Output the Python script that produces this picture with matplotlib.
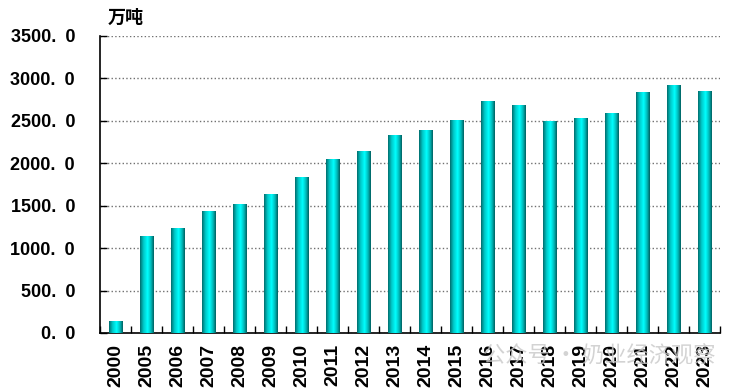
import numpy as np
import matplotlib
matplotlib.use('Agg')
import matplotlib.pyplot as plt
from matplotlib.colors import LinearSegmentedColormap

plt.rcParams['font.family'] = ['Noto Sans CJK SC', 'DejaVu Sans']

years = ['2000', '2005', '2006', '2007', '2008', '2009', '2010', '2011', '2012', '2013',
         '2014', '2015', '2016', '2017', '2018', '2019', '2020', '2021', '2022', '2023']
values = [130, 1143, 1237, 1437, 1519, 1637, 1837, 2050, 2144, 2332,
          2391, 2509, 2733, 2686, 2497, 2532, 2591, 2839, 2921, 2850]
yticks = [0, 500, 1000, 1500, 2000, 2500, 3000, 3500]

fig = plt.figure(figsize=(7.37, 3.89), dpi=100)
ax = fig.add_axes([0.1357, 0.144, 0.8413, 0.7635])

x = np.arange(len(years))
width = 0.42
bars = ax.bar(x, values, width=width, color='none', zorder=3)

# cylinder-like shading: dark teal edges, bright cyan centre
cmap = LinearSegmentedColormap.from_list('cyl', [
    (0.0, '#006e6e'), (0.25, '#00c8c8'), (0.55, '#00ffff'), (0.8, '#00b8b8'), (1.0, '#006060')])
grad = np.linspace(0, 1, 64).reshape(1, -1)
for b in bars:
    x0, y0 = b.get_x(), b.get_y()
    ax.imshow(grad, cmap=cmap, aspect='auto', zorder=3,
              extent=[x0, x0 + b.get_width(), y0, y0 + b.get_height()])

ax.set_xlim(-0.5, len(years) - 0.5)
ax.set_ylim(0, 3500)
ax.set_yticks(yticks)
ax.set_yticklabels([f'{v:.1f}'.replace('.', '.\u2002') for v in yticks],
                   fontsize=13, fontweight='bold', family=['Liberation Sans', 'DejaVu Sans'])
ax.set_xticks(x)
ax.set_xticklabels(years, rotation=90, fontsize=14, fontweight='bold', family=['Liberation Sans'])
ax.set_xticks(np.arange(-0.5, len(years)), minor=True)
ax.tick_params(axis='x', which='major', length=0, pad=8)
ax.tick_params(axis='x', which='minor', direction='in', length=5, width=1, color='black')
ax.tick_params(axis='y', direction='in', length=5, width=1, pad=18)

ax.yaxis.grid(True, linestyle=':', color='#707070', linewidth=1, zorder=0)
ax.set_axisbelow(True)
ax.spines['top'].set_visible(False)
ax.spines['right'].set_visible(False)
ax.spines['left'].set_linewidth(1.2)
ax.spines['bottom'].set_linewidth(1.2)

ax.text(0.012, 1.03, '万吨', transform=ax.transAxes, fontsize=13, fontweight='bold',
        ha='left', va='bottom')
fig.text(0.655, 0.085, '公众号 · 奶业经济观察', fontsize=16, color='#c8c8c8',
         alpha=0.8, ha='left', va='center', zorder=10)

fig.savefig('out.png', dpi=100)
